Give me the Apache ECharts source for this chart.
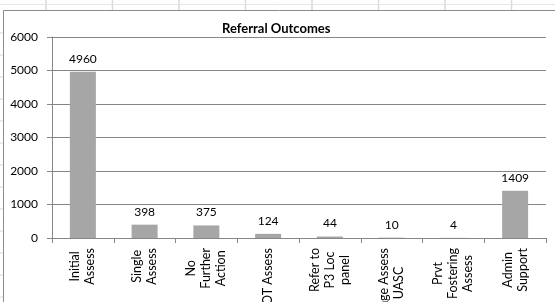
<!DOCTYPE html>
<html>
<head>
<meta charset="utf-8">
<script src="https://cdn.jsdelivr.net/npm/echarts@6/dist/echarts.min.js"></script>
<style>
  html, body { margin: 0; padding: 0; background: #fff; }
  #chart { width: 555px; height: 302px; }
</style>
</head>
<body>
<div id="chart"></div>
<script>
// categories as printed under the axis (line breaks as in the workbook)
const categories = [
  'Initial\nAssess',
  'Single\nAssess',
  'No\nFurther\nAction',
  'OT Assess',
  'Refer to\nP3 Loc\npanel',
  'Stage Assess\nUASC',
  'Prvt\nFostering\nAssess',
  'Admin\nSupport'
];
const outcomes = [4960, 398, 375, 124, 44, 10, 4, 1409];
const yTicks = [0, 1000, 2000, 3000, 4000, 5000, 6000];

const font = 'Lato, "Open Sans", sans-serif';
const axisGrey = '#868686';
const sheetGrey = '#d9d9d9';

// spreadsheet cells showing around the chart object
let sheet = [];
[46, 112.5, 179, 245.5, 312, 378.5, 445, 511.5].forEach(x => {
  sheet.push({type: 'line', shape: {x1: x, y1: 0, x2: x, y2: 10}, style: {stroke: sheetGrey, lineWidth: 1.5}});
});
sheet.push({type: 'line', shape: {x1: 0, y1: 4.5, x2: 555, y2: 4.5}, style: {stroke: '#e6e6e6', lineWidth: 1}});
for (let y = 33; y < 302; y += 22) {
  sheet.push({type: 'line', shape: {x1: 0, y1: y, x2: 3, y2: y}, style: {stroke: sheetGrey, lineWidth: 1}});
}

let myChart = echarts.init(document.getElementById('chart'), null, {renderer: 'canvas'});
let option = {
  animation: false,
  backgroundColor: '#fff',
  textStyle: {fontFamily: font, color: '#000'},
  graphic: [
    {type: 'group', silent: true, z: -10, children: sheet},
    {
      type: 'rect', silent: true, z: -9,
      shape: {x: 3.5, y: 10.5, width: 600, height: 400},
      style: {fill: '#fff', stroke: '#8c8c8c', lineWidth: 1}
    }
  ],
  title: {
    text: 'Referral Outcomes',
    left: 217,
    top: 17,
    textStyle: {fontFamily: font, fontSize: 13, fontWeight: 'bold', color: '#000'}
  },
  grid: {left: 52, right: 9, top: 37, bottom: 64, containLabel: false, outerBoundsMode: 'none'},
  xAxis: {
    type: 'category',
    data: categories,
    axisLine: {lineStyle: {color: axisGrey, width: 1}},
    axisTick: {show: true, length: 5, lineStyle: {color: axisGrey}},
    axisLabel: {
      interval: 0,
      rotate: 90,
      margin: 10,
      formatter: v => v.split('\n').map(s => '{c|' + s + '}').join('\n'),
      rich: {
        c: {align: 'center', fontFamily: font, fontSize: 12.5, lineHeight: 15, color: '#000'}
      }
    }
  },
  yAxis: {
    type: 'value',
    min: yTicks[0],
    max: yTicks[yTicks.length - 1],
    interval: 1000,
    axisLine: {show: true, lineStyle: {color: axisGrey, width: 1}},
    axisTick: {show: true, length: 5, lineStyle: {color: axisGrey}},
    axisLabel: {margin: 14, fontFamily: font, fontSize: 12, color: '#000', formatter: v => String(v)},
    splitLine: {lineStyle: {color: axisGrey, width: 1}}
  },
  series: [{
    type: 'bar',
    data: outcomes,
    barWidth: 26,
    itemStyle: {color: '#a6a6a6'},
    label: {
      show: true,
      position: 'top',
      distance: 7,
      fontFamily: font,
      fontSize: 12,
      color: '#000'
    }
  }]
};
myChart.setOption(option);
</script>
</body>
</html>
